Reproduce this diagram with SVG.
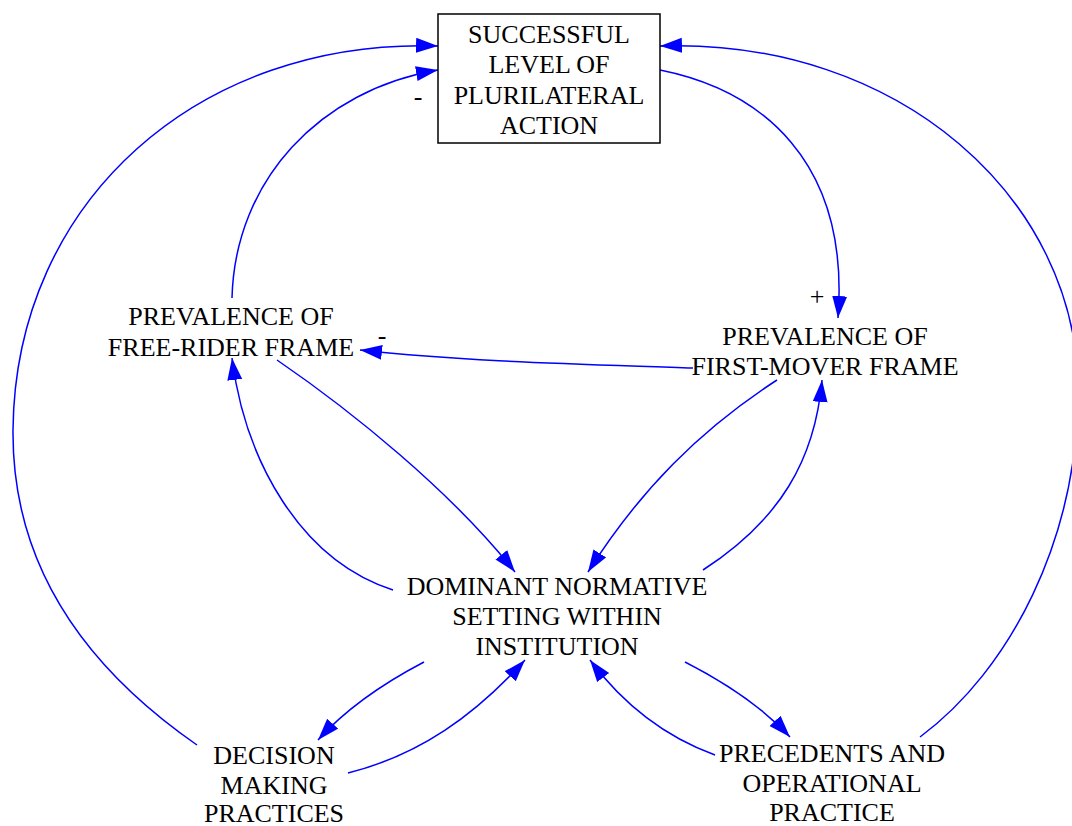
<svg xmlns="http://www.w3.org/2000/svg" width="1072" height="826" viewBox="0 0 1072 826">
<defs>
<marker id="ah" markerUnits="userSpaceOnUse" markerWidth="26" markerHeight="18" refX="22" refY="7.5" orient="auto">
<path d="M0,0 L22,7.5 L0,15 z" fill="#0000ff"/>
</marker>
<style>
text{font-family:"Liberation Serif","Times New Roman",serif;font-size:26px;fill:#000;text-anchor:middle}
.c{fill:none;stroke:#0000ff;stroke-width:1.5;marker-end:url(#ah)}
.box{fill:#fff;stroke:#000;stroke-width:1.5}
</style>
</defs>
<rect width="1072" height="826" fill="#fff"/>
<g id="connectors">
<path class="c" d="M197,745 C60,650 12,540 13,430 C15,200 200,38 438,46"/>
<path class="c" d="M232,298 C235,180 320,90 438,70"/>
<path class="c" d="M660,70 C760,90 850,160 838,318"/>
<path class="c" d="M920,737 C1010,670 1078,540 1078,390 C1078,200 900,38 660,46"/>
<path class="c" d="M693,368 C580,364 470,362 360,350"/>
<path class="c" d="M277,360 C350,410 450,490 515,572"/>
<path class="c" d="M777,380 C700,430 640,490 588,572"/>
<path class="c" d="M703,570 C780,520 815,460 822,380"/>
<path class="c" d="M393,590 C300,560 245,460 232,358"/>
<path class="c" d="M424,662 C380,685 345,710 318,740"/>
<path class="c" d="M348,773 C420,755 475,715 525,660"/>
<path class="c" d="M685,662 C730,685 765,710 790,737"/>
<path class="c" d="M715,755 C660,735 620,700 590,660"/>
<text x="418" y="105">-</text>
<text x="817" y="305">+</text>
<text x="382" y="344">-</text>
</g>
<g id="successful">
<rect class="box" x="438" y="14" width="222" height="129"/>
<text x="549" y="43">SUCCESSFUL</text>
<text x="549" y="73">LEVEL OF</text>
<text x="549" y="104">PLURILATERAL</text>
<text x="549" y="134">ACTION</text>
</g>
<g id="freerider">
<text x="231" y="325">PREVALENCE OF</text>
<text x="231" y="356">FREE-RIDER FRAME</text>
</g>
<g id="firstmover">
<text x="825" y="345">PREVALENCE OF</text>
<text x="825" y="375">FIRST-MOVER FRAME</text>
</g>
<g id="dominant">
<text x="557" y="595">DOMINANT NORMATIVE</text>
<text x="557" y="625">SETTING WITHIN</text>
<text x="557" y="655">INSTITUTION</text>
</g>
<g id="decision">
<text x="274" y="764">DECISION</text>
<text x="274" y="794">MAKING</text>
<text x="274" y="822">PRACTICES</text>
</g>
<g id="precedents">
<text x="832" y="762">PRECEDENTS AND</text>
<text x="832" y="792">OPERATIONAL</text>
<text x="832" y="821">PRACTICE</text>
</g>
</svg>
